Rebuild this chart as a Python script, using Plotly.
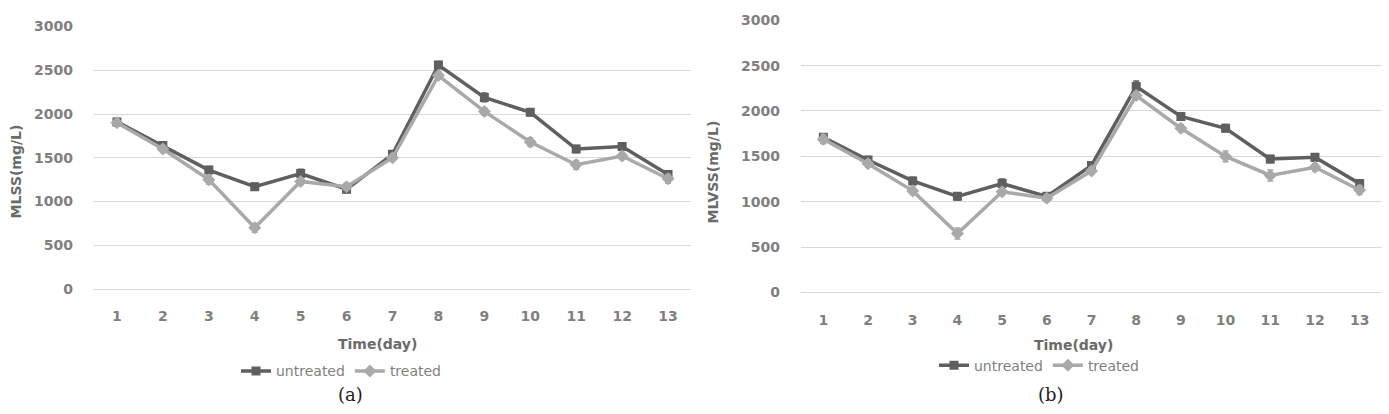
import plotly.graph_objects as go

days = [str(d) for d in range(1, 14)]
y_ticks = [0, 500, 1000, 1500, 2000, 2500, 3000]

mlss_untreated = [1910, 1640, 1360, 1170, 1320, 1140, 1540, 2560, 2190, 2020, 1600, 1630, 1310]
mlss_treated = [1900, 1600, 1250, 700, 1230, 1170, 1500, 2440, 2030, 1680, 1420, 1520, 1260]
mlss_untreated_err = [40, 40, 40, 40, 50, 40, 40, 40, 50, 40, 40, 40, 40]
mlss_treated_err = [40, 40, 50, 50, 40, 40, 40, 40, 40, 50, 50, 40, 50]

mlvss_untreated = [1710, 1460, 1230, 1060, 1200, 1060, 1400, 2270, 1940, 1810, 1470, 1490, 1200]
mlvss_treated = [1690, 1420, 1120, 650, 1110, 1040, 1340, 2170, 1810, 1500, 1290, 1380, 1130]
mlvss_untreated_err = [40, 40, 40, 40, 50, 40, 40, 60, 40, 40, 40, 40, 40]
mlvss_treated_err = [50, 40, 40, 60, 40, 40, 40, 40, 40, 60, 60, 40, 50]

DARK = "#5f5f5f"
LIGHT = "#a9a9a9"
W, H = 1389, 414

fig = go.Figure()


def add_pair(untreated, treated, u_err, t_err, xa, ya, legend):
    fig.add_trace(go.Scatter(
        x=days, y=untreated, name="untreated", mode="lines+markers",
        line=dict(color=DARK, width=3.5), marker=dict(symbol="square", size=9, color=DARK),
        error_y=dict(type="data", array=u_err, color=DARK, thickness=1.5, width=3),
        xaxis=xa, yaxis=ya, legend=legend))
    fig.add_trace(go.Scatter(
        x=days, y=treated, name="treated", mode="lines+markers",
        line=dict(color=LIGHT, width=3.5), marker=dict(symbol="diamond", size=10, color=LIGHT),
        error_y=dict(type="data", array=t_err, color=LIGHT, thickness=1.5, width=3),
        xaxis=xa, yaxis=ya, legend=legend))


add_pair(mlss_untreated, mlss_treated, mlss_untreated_err, mlss_treated_err, "x", "y", "legend")
add_pair(mlvss_untreated, mlvss_treated, mlvss_untreated_err, mlvss_treated_err, "x2", "y2", "legend2")

TICKFONT = dict(family="DejaVu Sans", size=14, color="#7f7f7f", weight="bold")
TITLEFONT = dict(family="DejaVu Sans", size=14, color="#6a6a6a")
LEGFONT = dict(family="DejaVu Sans", size=14, color="#7f7f7f")


def px_x(p):
    return p / W


def px_y(p):
    return 1 - p / H


xcommon = dict(type="category", showgrid=False, zeroline=False, showline=False,
               ticks="", tickfont=TICKFONT, ticklabelstandoff=17, range=[-0.5, 12.5])
ycommon = dict(range=[0, 3000], tickvals=y_ticks, showgrid=True, gridcolor="#d9d9d9",
               gridwidth=1, zeroline=True, zerolinecolor="#d9d9d9", zerolinewidth=1,
               showline=False, ticks="", tickfont=TICKFONT, ticklabelstandoff=20)

fig.update_layout(
    width=W, height=H,
    margin=dict(l=0, r=0, t=0, b=0),
    paper_bgcolor="white", plot_bgcolor="white",
    xaxis=dict(domain=[px_x(94), px_x(691)], anchor="y", **xcommon),
    yaxis=dict(domain=[px_y(292.3), px_y(19.3)], anchor="x", **ycommon),
    xaxis2=dict(domain=[px_x(801), px_x(1382)], anchor="y2", **xcommon),
    yaxis2=dict(domain=[px_y(296), px_y(12.7)], anchor="x2", **ycommon),
    legend=dict(orientation="h", x=px_x(236), y=px_y(378), xanchor="left", yanchor="middle",
                font=LEGFONT, bgcolor="rgba(0,0,0,0)", itemwidth=30, tracegroupgap=0),
    legend2=dict(orientation="h", x=px_x(934), y=px_y(372), xanchor="left", yanchor="middle",
                 font=LEGFONT, bgcolor="rgba(0,0,0,0)", itemwidth=30, tracegroupgap=0),
    showlegend=True,
)

annotations = [
    dict(text="<b>Time(day)</b>", x=px_x(377), y=px_y(349)),
    dict(text="<b>Time(day)</b>", x=px_x(1073), y=px_y(351)),
    dict(text="<b>MLSS(mg/L)</b>", x=px_x(16), y=px_y(170), textangle=-90),
    dict(text="<b>MLVSS(mg/L)</b>", x=px_x(713), y=px_y(170), textangle=-90),
]
for a in annotations:
    fig.add_annotation(xref="paper", yref="paper", xanchor="center", yanchor="middle",
                       showarrow=False, font=TITLEFONT, **a)

for txt, cx in [("(a)", 350), ("(b)", 1051)]:
    fig.add_annotation(text=txt, xref="paper", yref="paper", x=px_x(cx), y=px_y(402),
                       xanchor="center", yanchor="middle", showarrow=False,
                       font=dict(family="DejaVu Serif", size=18, color="#222222"))

fig.write_html("out.html")
